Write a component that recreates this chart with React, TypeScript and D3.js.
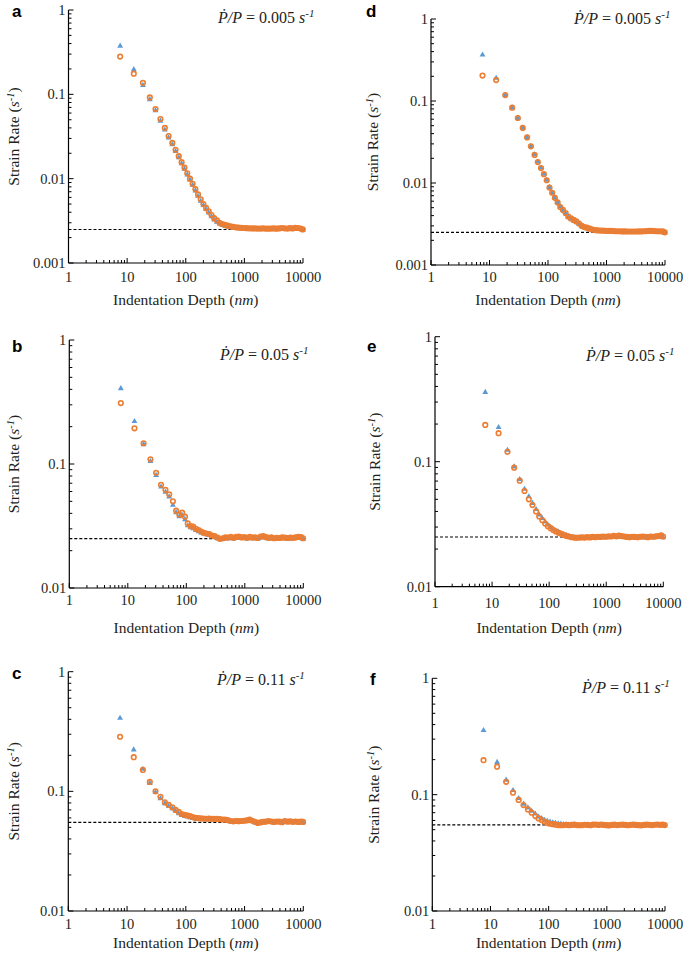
import React from "react";
import * as d3 from "d3";

// ---------------- data ----------------
const X_NM = [7.6, 13, 18.6, 24.4, 30.5, 37, 44, 51, 59, 67, 76, 85, 95,
  106, 118, 131, 146, 162, 180, 200, 222, 247, 275,
  305, 340, 378, 420, 467, 520, 578, 643, 715, 795,
  884, 983, 1093, 1216, 1352, 1504, 1672, 1860, 2068, 2300,
  2558, 2845, 3164, 3519, 3913, 4352, 4840, 5383, 5986, 6657,
  7404, 8234, 9157, 9900];

const X_TICK_LABELS = ["1", "10", "100", "1000", "10000"];

const A_CIRCLE = [0.28, 0.176, 0.137, 0.092, 0.067, 0.051, 0.040, 0.032, 0.0265, 0.022, 0.0185, 0.0157, 0.0135,
  0.0116, 0.0100, 0.0087, 0.0075, 0.0065, 0.0057, 0.0050, 0.0045, 0.0041, 0.0037,
  0.0034, 0.0032, 0.0030, 0.0029, 0.00283, 0.00277, 0.00272, 0.00268, 0.00265, 0.00263,
  0.00261, 0.0026, 0.00259, 0.00258, 0.00257, 0.00257, 0.00256, 0.00256, 0.00257, 0.00256,
  0.00255, 0.00256, 0.00257, 0.00255, 0.00257, 0.0026, 0.00258, 0.00256, 0.00259, 0.00257,
  0.00261, 0.0026, 0.00256, 0.0025];
const A_TRIANGLE = [0.38, 0.20, 0.13, 0.088, 0.065, 0.049, 0.0385, 0.031, 0.0258, 0.0214, 0.018, 0.0153, 0.0132,
  0.0113, 0.0098, 0.0085, 0.0073, 0.0063, 0.0055, 0.0049, 0.0044, 0.0040, 0.0036,
  0.0033, 0.0031, 0.00295, 0.00285, 0.00278, 0.00272, 0.00268, 0.00264, 0.00261, 0.0026,
  0.00259, 0.00258, 0.00257, 0.00256, 0.00256, 0.00255, 0.00255, 0.00255, 0.00255, 0.00254,
  0.00254, 0.00255, 0.00255, 0.00254, 0.00255, 0.00257, 0.00256, 0.00255, 0.00257, 0.00256,
  0.00258, 0.00257, 0.00255, 0.00248];

const B_CIRCLE = [0.31, 0.194, 0.147, 0.109, 0.085, 0.068, 0.062, 0.057, 0.050, 0.042, 0.039, 0.0405, 0.0376,
  0.0332, 0.0316, 0.0312, 0.0300, 0.0293, 0.0285, 0.0279, 0.0275, 0.0272, 0.0265,
  0.0262, 0.0255, 0.0249, 0.0252, 0.0256, 0.0255, 0.0258, 0.0254, 0.0258, 0.026,
  0.0256, 0.0257, 0.0254, 0.0258, 0.0255, 0.0256, 0.0253, 0.026, 0.0262, 0.0257,
  0.0254, 0.0256, 0.0252, 0.0254, 0.0253, 0.0256, 0.0255, 0.0253, 0.0255, 0.0254,
  0.0256, 0.0258, 0.0257, 0.0252];
const B_TRIANGLE = [0.41, 0.223, 0.145, 0.106, 0.082, 0.066, 0.060, 0.055, 0.047, 0.041, 0.038, 0.039, 0.036,
  0.0322, 0.031, 0.0305, 0.0295, 0.0288, 0.0281, 0.0276, 0.0272, 0.0268, 0.0262,
  0.0259, 0.0253, 0.0248, 0.025, 0.0253, 0.0253, 0.0255, 0.0252, 0.0255, 0.0257,
  0.0254, 0.0255, 0.0252, 0.0255, 0.0253, 0.0254, 0.0252, 0.0257, 0.0259, 0.0255,
  0.0252, 0.0254, 0.0251, 0.0252, 0.0252, 0.0254, 0.0253, 0.0252, 0.0253, 0.0253,
  0.0254, 0.0256, 0.0255, 0.025];

const C_CIRCLE = [0.286, 0.193, 0.151, 0.12, 0.10, 0.09, 0.081, 0.077, 0.0736, 0.070, 0.0673, 0.0647, 0.0635,
  0.063, 0.062, 0.061, 0.060, 0.0598, 0.0595, 0.0593, 0.059, 0.0592, 0.059,
  0.0588, 0.0588, 0.0585, 0.0582, 0.058, 0.0575, 0.0565, 0.0562, 0.0565, 0.0563,
  0.0565, 0.0568, 0.0572, 0.058, 0.0568, 0.0556, 0.0545, 0.055, 0.0556, 0.0558,
  0.0565, 0.056, 0.0555, 0.056, 0.0558, 0.0552, 0.0565, 0.0558, 0.0562, 0.0556,
  0.056, 0.0555, 0.0558, 0.0555];
const C_TRIANGLE = [0.413, 0.225, 0.155, 0.118, 0.099, 0.088, 0.080, 0.076, 0.0725, 0.069, 0.066, 0.0638, 0.0625,
  0.062, 0.061, 0.0602, 0.0595, 0.0592, 0.059, 0.0588, 0.0586, 0.0588, 0.0586,
  0.0585, 0.0584, 0.0582, 0.058, 0.0577, 0.0572, 0.0565, 0.0562, 0.0563, 0.0562,
  0.0563, 0.0566, 0.057, 0.0575, 0.0566, 0.0555, 0.0546, 0.055, 0.0555, 0.0557,
  0.0562, 0.0558, 0.0555, 0.0558, 0.0556, 0.0553, 0.0562, 0.0556, 0.056, 0.0555,
  0.0558, 0.0554, 0.0556, 0.0553];

const D_CIRCLE = [0.204, 0.18, 0.118, 0.083, 0.062, 0.047, 0.036, 0.028, 0.022, 0.018, 0.0152, 0.0128, 0.0108,
  0.0088, 0.0076, 0.0066, 0.0058, 0.0051, 0.0047, 0.0043, 0.0039, 0.0037, 0.00355,
  0.0034, 0.0032, 0.0030, 0.0029, 0.00285, 0.00277, 0.0027, 0.00266, 0.00264, 0.00263,
  0.00262, 0.00261, 0.0026, 0.0026, 0.00259, 0.00258, 0.00258, 0.00257, 0.00257, 0.00256,
  0.00256, 0.00256, 0.00256, 0.00257, 0.00257, 0.00258, 0.00259, 0.0026, 0.0026, 0.00259,
  0.00258, 0.00258, 0.00257, 0.0025];
const D_TRIANGLE = [0.371, 0.193, 0.119, 0.084, 0.0625, 0.0475, 0.0365, 0.0285, 0.0225, 0.0184, 0.0155, 0.013, 0.011,
  0.009, 0.0077, 0.0067, 0.0059, 0.0052, 0.0047, 0.0043, 0.0039, 0.0037, 0.00352,
  0.0034, 0.0032, 0.003, 0.0029, 0.00283, 0.00275, 0.00268, 0.00264, 0.00263, 0.00262,
  0.00261, 0.0026, 0.00259, 0.00259, 0.00258, 0.00257, 0.00257, 0.00256, 0.00256, 0.00255,
  0.00255, 0.00255, 0.00255, 0.00256, 0.00256, 0.00257, 0.00258, 0.00259, 0.00259, 0.00258,
  0.00257, 0.00257, 0.00256, 0.00248];

const E_CIRCLE = [0.197, 0.169, 0.12, 0.0895, 0.0705, 0.0583, 0.050, 0.045, 0.040, 0.0365, 0.034, 0.032, 0.0305,
  0.0294, 0.0284, 0.0277, 0.027, 0.0265, 0.026, 0.0255, 0.0252, 0.0249, 0.0247,
  0.0246, 0.0247, 0.0248, 0.0247, 0.0249, 0.0248, 0.025, 0.0249, 0.0251, 0.025,
  0.0252, 0.0251, 0.0253, 0.0252, 0.0255, 0.0253, 0.0256, 0.0254, 0.0252, 0.025,
  0.0249, 0.0251, 0.025, 0.0249, 0.0251, 0.0252, 0.0251, 0.0249, 0.0252, 0.0251,
  0.0253, 0.0254, 0.0258, 0.0252];
const E_TRIANGLE = [0.363, 0.19, 0.125, 0.092, 0.073, 0.061, 0.053, 0.047, 0.042, 0.038, 0.0355, 0.0333, 0.0315,
  0.0302, 0.0292, 0.0284, 0.0277, 0.027, 0.0265, 0.026, 0.0256, 0.0252, 0.025,
  0.0248, 0.0248, 0.0248, 0.0247, 0.0248, 0.0248, 0.0249, 0.0248, 0.025, 0.0249,
  0.0251, 0.025, 0.0251, 0.0251, 0.0253, 0.0252, 0.0254, 0.0253, 0.0251, 0.0249,
  0.0248, 0.025, 0.0249, 0.0248, 0.025, 0.0251, 0.025, 0.0248, 0.0251, 0.025,
  0.0252, 0.0253, 0.0256, 0.025];

const F_CIRCLE = [0.198, 0.174, 0.129, 0.104, 0.09, 0.0814, 0.0746, 0.070, 0.0655, 0.0625, 0.0605, 0.0585, 0.057,
  0.0562, 0.0558, 0.0552, 0.0548, 0.0546, 0.0548, 0.055, 0.0547, 0.0549, 0.0552,
  0.0548, 0.0546, 0.0548, 0.0551, 0.0549, 0.0546, 0.0552, 0.0554, 0.0549, 0.0552,
  0.055, 0.0547, 0.0544, 0.0549, 0.0552, 0.0548, 0.055, 0.0553, 0.0549, 0.0546,
  0.055, 0.0552, 0.0549, 0.0547, 0.0545, 0.0549, 0.0552, 0.055, 0.0548, 0.0551,
  0.0553, 0.055, 0.0552, 0.0548];
const F_TRIANGLE = [0.36, 0.192, 0.135, 0.11, 0.094, 0.084, 0.078, 0.073, 0.069, 0.065, 0.063, 0.061, 0.0598,
  0.059, 0.058, 0.0575, 0.057, 0.0565, 0.056, 0.0558, 0.0556, 0.0555, 0.0555,
  0.0552, 0.055, 0.0551, 0.0552, 0.055, 0.0549, 0.0552, 0.0553, 0.055, 0.0551,
  0.055, 0.0548, 0.0546, 0.0549, 0.0551, 0.0548, 0.055, 0.0552, 0.0549, 0.0547,
  0.055, 0.0551, 0.0549, 0.0548, 0.0546, 0.0549, 0.0551, 0.055, 0.0548, 0.055,
  0.0552, 0.055, 0.0551, 0.0548];

const REF_LEVELS = [0.0025, 0.025, 0.055];
const RATE_LABELS = ["0.005", "0.05", "0.11"];

// ---------------- layout ----------------
const SERIF = "'Liberation Serif', 'Times New Roman', Times, serif";
const SANS = "'Liberation Sans', Arial, sans-serif";
const ORANGE = "#ED7D31";
const BLUE = "#5B9BD5";
const INK = "#231f20";

const PANELS = [
  { letter: "a", circle: A_CIRCLE, tri: A_TRIANGLE, ref: REF_LEVELS[0], rate: RATE_LABELS[0], yMin: 0.001,
    left: 68.5, right: 303, top: 10, bottom: 263, letterX: 12, letterY: 17, rateX: 218, rateY: 23, yTitleX: 14, tickY: 282, titleY: 305 },
  { letter: "b", circle: B_CIRCLE, tri: B_TRIANGLE, ref: REF_LEVELS[1], rate: RATE_LABELS[1], yMin: 0.01,
    left: 69.3, right: 303.3, top: 340, bottom: 588, letterX: 12, letterY: 352, rateX: 220, rateY: 360, yTitleX: 14, tickY: 605, titleY: 633 },
  { letter: "c", circle: C_CIRCLE, tri: C_TRIANGLE, ref: REF_LEVELS[2], rate: RATE_LABELS[2], yMin: 0.01,
    left: 68.3, right: 303.3, top: 671.7, bottom: 911, letterX: 12, letterY: 679, rateX: 217, rateY: 685, yTitleX: 14, tickY: 929, titleY: 948 },
  { letter: "d", circle: D_CIRCLE, tri: D_TRIANGLE, ref: REF_LEVELS[0], rate: RATE_LABELS[0], yMin: 0.001,
    left: 431, right: 665, top: 19, bottom: 265, letterX: 366, letterY: 17, rateX: 574, rateY: 24, yTitleX: 373, tickY: 282, titleY: 305 },
  { letter: "e", circle: E_CIRCLE, tri: E_TRIANGLE, ref: REF_LEVELS[1], rate: RATE_LABELS[1], yMin: 0.01,
    left: 435, right: 663.3, top: 336.7, bottom: 586.7, letterX: 367, letterY: 352, rateX: 586, rateY: 361, yTitleX: 375, tickY: 608, titleY: 633 },
  { letter: "f", circle: F_CIRCLE, tri: F_TRIANGLE, ref: REF_LEVELS[2], rate: RATE_LABELS[2], yMin: 0.01,
    left: 432.3, right: 665, top: 678.3, bottom: 911, letterX: 370, letterY: 685, rateX: 582, rateY: 693, yTitleX: 374, tickY: 929, titleY: 948 },
];

const isPow10 = (v: number) => Math.abs(Math.log10(v) - Math.round(Math.log10(v))) < 1e-9;
const fmtY = (v: number) => {
  const e = Math.round(Math.log10(v));
  return e >= 0 ? "1" : "0." + "0".repeat(-e - 1) + "1";
};

function Panel({ p }: { p: any }) {
  const x = d3.scaleLog().domain([1, 10000]).range([p.left, p.right]);
  const y = d3.scaleLog().domain([p.yMin, 1]).range([p.bottom, p.top]);
  const xt = x.ticks();
  const yt = y.ticks();
  const triPath = d3.symbol(d3.symbolTriangle, 15)() as string;
  const n = Math.min(X_NM.length, p.circle.length);
  const nt = Math.min(X_NM.length, p.tri.length);
  const midY = (p.top + p.bottom) / 2;
  return (
    <g>
      <line x1={p.left} x2={p.right + 2} y1={y(p.ref)} y2={y(p.ref)} stroke="#000" strokeWidth={1.1} strokeDasharray="3,2" />
      {d3.range(nt).map((i) => (
        <path key={"t" + i} d={triPath} transform={`translate(${x(X_NM[i])},${y(p.tri[i]) + 0.5})`} fill={BLUE} />
      ))}
      {d3.range(n).map((i) => (
        <circle key={"c" + i} cx={x(X_NM[i])} cy={y(p.circle[i])} r={2.3} fill="none" stroke={ORANGE} strokeWidth={1.6} />
      ))}
      <line x1={p.left} x2={p.left} y1={p.top} y2={p.bottom} stroke="#000" strokeWidth={1.2} />
      <line x1={p.left} x2={p.right} y1={p.bottom} y2={p.bottom} stroke="#000" strokeWidth={1.2} />
      {yt.map((v, i) => (
        <line key={"yt" + i} x1={p.left} x2={p.left + (isPow10(v) ? 5 : 3)} y1={y(v)} y2={y(v)} stroke="#000" strokeWidth={1} />
      ))}
      {xt.map((v, i) => (
        <line key={"xt" + i} x1={x(v)} x2={x(v)} y1={p.bottom} y2={p.bottom - (isPow10(v) ? 5 : 3)} stroke="#000" strokeWidth={1} />
      ))}
      {yt.filter(isPow10).map((v, i) => (
        <text key={"yl" + i} x={p.left - 3} y={y(v)} dy="0.35em" textAnchor="end" fontFamily={SERIF} fontSize={14.5} fill={INK}>{fmtY(v)}</text>
      ))}
      {X_TICK_LABELS.map((s, i) => (
        <text key={"xl" + i} x={x(+s)} y={p.tickY} textAnchor="middle" fontFamily={SERIF} fontSize={14.5} fill={INK}>{s}</text>
      ))}
      <text x={(p.left + p.right) / 2} y={p.titleY} textAnchor="middle" fontFamily={SERIF} fontSize={15.5} fill={INK}>
        Indentation Depth (<tspan fontStyle="italic">nm</tspan>)
      </text>
      <text transform={`translate(${p.yTitleX + 5},${midY}) rotate(-90)`} textAnchor="middle" fontFamily={SERIF} fontSize={15.5} fill={INK}>
        Strain Rate (<tspan fontStyle="italic">s</tspan><tspan fontStyle="italic" fontSize={10.5} dy={-5}>-1</tspan><tspan dy={5}>)</tspan>
      </text>
      <text x={p.rateX} y={p.rateY} fontFamily={SERIF} fontSize={16} fill={INK}>
        <tspan fontStyle="italic">{"\u1E56/P"}</tspan>{" = " + p.rate + " "}<tspan fontStyle="italic">s</tspan>
        <tspan fontStyle="italic" fontSize={11} dy={-6}>-1</tspan>
      </text>
      <text x={p.letterX} y={p.letterY} fontFamily={SANS} fontWeight="bold" fontSize={17} fill="#000">{p.letter}</text>
    </g>
  );
}

export default function App() {
  return (
    <svg width={685} height={953} style={{ position: "absolute", left: 0, top: 0, background: "#fff" }}>
      <rect x={0} y={0} width={685} height={953} fill="#fff" />
      {PANELS.map((p) => (
        <Panel key={p.letter} p={p} />
      ))}
    </svg>
  );
}
